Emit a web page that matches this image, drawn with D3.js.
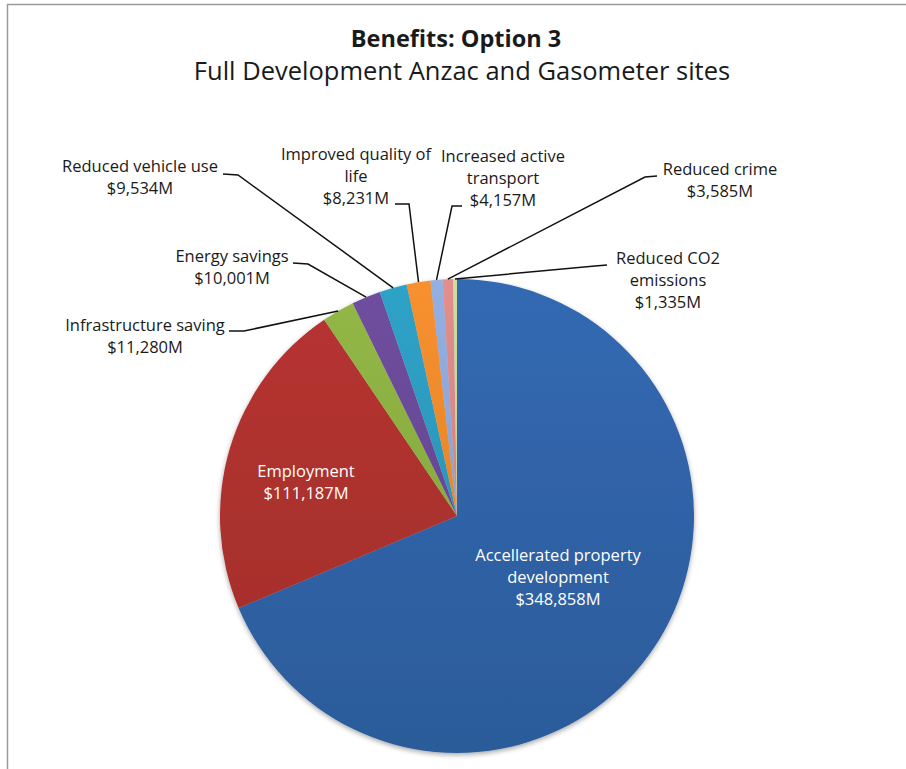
<!DOCTYPE html>
<html>
<head>
<meta charset="utf-8">
<script src="https://cdn.jsdelivr.net/npm/d3@7"></script>
<style>
  body { margin: 0; background: #fff; }
  svg text { font-family: "Open Sans", "Noto Sans", sans-serif; fill: #1a1a1a; }
</style>
</head>
<body>
<div id="chart"></div>
<script>
// data
const categories = [
  "Accellerated property development",
  "Employment",
  "Infrastructure saving",
  "Energy savings",
  "Reduced vehicle use",
  "Improved quality of life",
  "Increased active transport",
  "Reduced crime",
  "Reduced CO2 emissions"
];
const values = [348858, 111187, 11280, 10001, 9534, 8231, 4157, 3585, 1335];
const labelLines = [
  ["Accellerated property", "development"],
  ["Employment"],
  ["Infrastructure saving"],
  ["Energy savings"],
  ["Reduced vehicle use"],
  ["Improved quality of", "life"],
  ["Increased active", "transport"],
  ["Reduced crime"],
  ["Reduced CO2", "emissions"]
];
const colors = ["#3165ab", "#b0322f", "#8db043", "#6a4b98", "#2d9bc0", "#ee8a2c", "#8ea8d9", "#d98887", "#c3d69b"];

// label placement (text anchor + leader line start/elbow), set by hand like the original
const layout = [
  {inside: true, x: 558, y: 561},
  {inside: true, x: 306, y: 477},
  {x: 145, y: 331, start: [229, 331], elbow: [244, 331]},
  {x: 232, y: 262, start: [293, 263], elbow: [308, 264]},
  {x: 140, y: 172, start: [223, 174], elbow: [238, 175]},
  {x: 356, y: 160, start: [395, 204], elbow: [409, 204]},
  {x: 503, y: 162, start: [462, 206], elbow: [452, 206]},
  {x: 720, y: 175, start: [657, 176], elbow: [645, 177]},
  {x: 668, y: 264, start: [607, 265], elbow: [595, 266]}
];

const width = 906, height = 769;
const cx = 457, cy = 516, radius = 237;
const lineH = 22;

const svg = d3.select('#chart').append('svg')
  .attr('width', width)
  .attr('height', height);

// frame (only top and left edges are visible in the crop)
svg.append('line').attr('x1', 7).attr('y1', 4.5).attr('x2', width).attr('y2', 4.5)
  .attr('stroke', '#9a9a9a').attr('stroke-width', 1.5);
svg.append('line').attr('x1', 7.5).attr('y1', 4).attr('x2', 7.5).attr('y2', height)
  .attr('stroke', '#9a9a9a').attr('stroke-width', 1.5);

// title
svg.append('text')
  .attr('x', 456).attr('y', 47)
  .attr('text-anchor', 'middle')
  .attr('font-size', 23.5).attr('font-weight', 'bold')
  .text('Benefits: Option 3');
svg.append('text')
  .attr('x', 462).attr('y', 80)
  .attr('text-anchor', 'middle')
  .attr('font-size', 25.5)
  .text('Full Development Anzac and Gasometer sites');

const defs = svg.append('defs');
const shadow = defs.append('filter').attr('id', 'shadow')
  .attr('x', '-10%').attr('y', '-10%').attr('width', '120%').attr('height', '120%');
shadow.append('feDropShadow')
  .attr('dx', 0).attr('dy', 2).attr('stdDeviation', 2.5)
  .attr('flood-color', '#000').attr('flood-opacity', 0.35);

// slight top-to-bottom shading like the original
colors.forEach((c, i) => {
  const g = defs.append('linearGradient').attr('id', 'grad' + i)
    .attr('gradientUnits', 'userSpaceOnUse')
    .attr('x1', 0).attr('y1', -radius).attr('x2', 0).attr('y2', radius);
  g.append('stop').attr('offset', '0%').attr('stop-color', d3.color(c).brighter(0.12));
  g.append('stop').attr('offset', '100%').attr('stop-color', d3.color(c).darker(0.3));
});

const pie = d3.pie().sort(null).value(d => d.value);
const data = categories.map((c, i) => ({name: c, value: values[i], i: i}));
const arcs = pie(data);

const arc = d3.arc().innerRadius(0).outerRadius(radius);
const edge = d3.arc().innerRadius(radius).outerRadius(radius);

const chart = svg.append('g').attr('transform', `translate(${cx},${cy})`);

chart.append('g').attr('filter', 'url(#shadow)')
  .selectAll('path')
  .data(arcs)
  .join('path')
  .attr('d', arc)
  .attr('fill', d => `url(#grad${d.data.i})`);

const fmt = d => '$' + d3.format(',')(d) + 'M';

// leader lines
arcs.forEach((a, i) => {
  const L = layout[i];
  if (L.inside) return;
  const p = edge.centroid(a);
  const pts = [L.start, L.elbow, [p[0] + cx, p[1] + cy]];
  svg.append('path')
    .attr('d', d3.line()(pts))
    .attr('fill', 'none')
    .attr('stroke', '#111')
    .attr('stroke-width', 1.5);
});

// labels
arcs.forEach((a, i) => {
  const L = layout[i];
  const lines = labelLines[i].concat([fmt(values[i])]);
  const t = svg.append('text')
    .attr('text-anchor', 'middle')
    .attr('font-size', 16.5)
    .style('fill', L.inside ? '#fff' : '#1a1a1a');
  lines.forEach((s, k) => {
    t.append('tspan')
      .attr('x', L.x)
      .attr('y', L.y + k * lineH)
      .text(s);
  });
});
</script>
</body>
</html>
